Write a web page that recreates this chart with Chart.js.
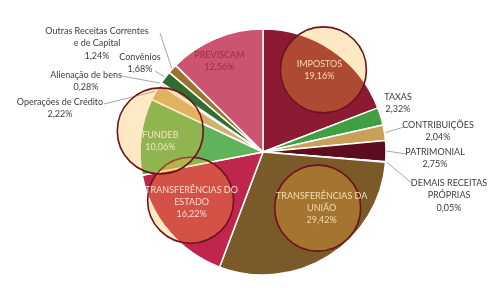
<!DOCTYPE html>
<html>
<head>
<meta charset="utf-8">
<script src="https://cdn.jsdelivr.net/npm/chart.js@4"></script>
<style>
body{margin:0;background:#fff;}
canvas{display:block;}
</style>
</head>
<body>
<canvas id="receitaChart" width="500" height="288"></canvas>
<script>
// categorias no sentido horario a partir do topo
const categories = [
  "IMPOSTOS", "TAXAS", "CONTRIBUIÇÕES", "PATRIMONIAL", "DEMAIS RECEITAS\nPRÓPRIAS",
  "TRANSFERÊNCIAS DA\nUNIÃO", "TRANSFERÊNCIAS DO\nESTADO", "FUNDEB", "Operações de Crédito",
  "Alienação de bens", "Convênios", "Outras Receitas Correntes\ne de Capital", "PREVISCAM"
];
const shares = [19.16, 2.32, 2.04, 2.75, 0.05, 29.42, 16.22, 10.06, 2.22, 0.28, 1.68, 1.24, 12.56];
const sliceColors = [
  "#8c1a32", "#3f9f42", "#c9a05a", "#5c0e1e", "#d8c090",
  "#7b5a2a", "#c0264c", "#5fb45a", "#d4b070", "#d9c49a", "#2e6e2e", "#9c7430", "#cc5470"
];

// rotulos internos: fracao do raio e ajuste de angulo (graus)
const insideLabels = {
  0: {f: 0.81, da: 0, color: "#f3dcb8", circle: {dx: 4, dy: 0}},
  5: {f: 0.66, da: -14, color: "#f3dcb0", circle: {dx: -4, dy: 0}},
  6: {f: 0.71, da: 5, color: "#f5dcd0", circle: {dx: -1, dy: -2}},
  7: {f: 0.84, da: -1, color: "#f3e6c0", circle: {dx: 0, dy: -10}},
  12: {f: 0.82, da: -3, color: "#9b2c4a"}
};
// rotulos externos: centro do texto e ponto de ancoragem da linha guia
const outsideLabels = {
  1: {x: 398, y: 97},
  2: {x: 438, y: 125, ax: 404, ay: 127},
  3: {x: 435, y: 152, ax: 407, ay: 154},
  4: {x: 449, y: 183, ax: 413, ay: 184},
  8: {x: 60, y: 102, ax: 104, ay: 104},
  9: {x: 86, y: 75, ax: 122, ay: 76},
  10: {x: 140, y: 57, ax: 155, ay: 71},
  11: {x: 97, y: 31, ax: 160, ay: 33}
};

const FONT = "Lato, 'Open Sans', sans-serif";
const fmt = v => v.toFixed(2).replace(".", ",") + "%";

const labelPlugin = {
  id: "labelPlugin",
  afterDatasetsDraw(chart) {
    const ctx = chart.ctx;
    const arcs = chart.getDatasetMeta(0).data;
    const midOf = a => (a.startAngle + a.endAngle) / 2;

    ctx.save();
    ctx.textAlign = "center";
    ctx.textBaseline = "middle";
    ctx.font = "9px " + FONT;

    // linhas guia
    ctx.strokeStyle = "#a6a6a6";
    ctx.lineWidth = 1;
    Object.keys(outsideLabels).forEach(k => {
      const o = outsideLabels[k];
      if (o.ax === undefined) return;
      const a = arcs[k];
      const m = midOf(a);
      ctx.beginPath();
      ctx.moveTo(o.ax, o.ay);
      ctx.lineTo(a.x + (a.outerRadius + 1) * Math.cos(m), a.y + (a.outerRadius + 1) * Math.sin(m));
      ctx.stroke();
    });

    // textos externos
    ctx.fillStyle = "#3c3c3c";
    Object.keys(outsideLabels).forEach(k => {
      const o = outsideLabels[k];
      const lines = categories[k].split("\n").concat([fmt(shares[k])]);
      lines.forEach((t, i) => ctx.fillText(t, o.x, o.y + i * 12.3));
    });

    // rotulos internos com circulos de destaque
    Object.keys(insideLabels).forEach(k => {
      const s = insideLabels[k];
      const a = arcs[k];
      const m = midOf(a) + s.da * Math.PI / 180;
      const lx = a.x + a.outerRadius * s.f * Math.cos(m);
      const ly = a.y + a.outerRadius * s.f * Math.sin(m);
      if (s.circle) {
        ctx.beginPath();
        ctx.arc(lx + s.circle.dx, ly + s.circle.dy, 43, 0, Math.PI * 2);
        ctx.fillStyle = "rgba(255,182,60,0.3)";
        ctx.fill();
        ctx.strokeStyle = "#6e1220";
        ctx.lineWidth = 1.6;
        ctx.stroke();
      }
      const lines = categories[k].split("\n").concat([fmt(shares[k])]);
      ctx.fillStyle = s.color;
      const top = ly - (lines.length - 1) * 12.3 / 2;
      lines.forEach((t, i) => ctx.fillText(t, lx, top + i * 12.3));
    });
    ctx.restore();
  }
};

new Chart(document.getElementById("receitaChart"), {
  type: "pie",
  data: {
    labels: categories,
    datasets: [{
      data: shares,
      backgroundColor: sliceColors,
      borderColor: "#ffffff",
      borderWidth: 1.5,
      hoverOffset: 0,
      offset: 0
    }]
  },
  options: {
    responsive: false,
    animation: false,
    events: [],
    radius: 123,
    layout: {padding: {left: 140, right: 114, top: 29, bottom: 13}},
    plugins: {legend: {display: false}, tooltip: {enabled: false}}
  },
  plugins: [labelPlugin]
});
</script>
</body>
</html>
